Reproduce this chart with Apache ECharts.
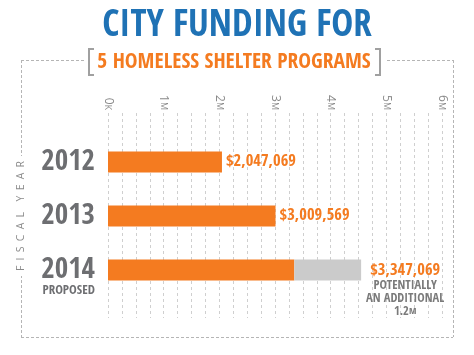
<!DOCTYPE html>
<html><head><meta charset="utf-8">
<script src="https://cdn.jsdelivr.net/npm/echarts@6/dist/echarts.min.js"></script>
<style>html,body{margin:0;padding:0;background:#fff}#c{width:474px;height:355px}</style>
</head><body><div id="c"></div>
<script>
const titleText = 'CITY FUNDING FOR';
const subtitleText = '5 HOMELESS SHELTER PROGRAMS';
const axisName = 'F\u2002I\u2002S\u2002C\u2002A\u2002L\u2002\u2002Y\u2002E\u2002A\u2002R';
const years = ['2012', '2013', '2014'];
const yearNotes = ['', '', 'PROPOSED'];
const funding = [2047069, 3009569, 3347069];
const additional = [0, 0, 1200000];
const additionalWords = ['POTENTIALLY', 'AN ADDITIONAL'];
const tickLabels = ['0K', '1M', '2M', '3M', '4M', '5M', '6M'];

const NARROW = "'Open Sans Condensed'";
const CW = 'bold';
const ORANGE = '#f47b20', BLUE = '#1f72b5', GREY = '#6d6e71', BARGREY = '#cbcbcb', DASH = '#b5b5b5';
const fmt = v => '$' + v.toLocaleString('en-US');

const chart = echarts.init(document.getElementById('c'));
chart.setOption({
  animation: false,
  backgroundColor: '#fff',
  grid: [
    {left: 108, right: 32, top: 113, bottom: 37},
    {left: 108, right: 32, top: 135, height: 162}
  ],
  xAxis: [
    {gridIndex: 0, type: 'value', position: 'top', min: 0, max: 6000000, interval: 1000000,
     axisLine: {show: false}, axisTick: {show: false},
     splitLine: {show: true, lineStyle: {color: '#cfcfcf', type: [3, 3]}},
     minorTick: {show: false, splitNumber: 4},
     minorSplitLine: {show: true, lineStyle: {color: '#cfcfcf', type: [3, 3]}},
     axisLabel: {rotate: 90, margin: 3, color: '#8a8a8a', fontFamily: 'Open Sans',
       formatter: v => { const t = tickLabels[Math.round(v / 1000000)]; return '{n|' + t.slice(0, -1) + '}{u|' + t.slice(-1) + '}'; },
       rich: {n: {fontSize: 12, color: '#8a8a8a', fontFamily: 'Open Sans'}, u: {fontSize: 9, color: '#8a8a8a', fontFamily: 'Open Sans'}}}},
    {gridIndex: 1, type: 'value', min: 0, max: 6000000, show: false}
  ],
  yAxis: [
    {gridIndex: 0, type: 'category', data: [], show: false},
    {gridIndex: 1, type: 'category', inverse: true, data: years,
     axisLine: {show: false}, axisTick: {show: false},
     axisLabel: {margin: 13, padding: [14, 0, 0, 0],
       formatter: (v, i) => '{y|' + v + '}\n{p|' + (yearNotes[i] || ' ') + '}',
       rich: {y: {fontSize: 29, fontWeight: CW, color: GREY, fontFamily: NARROW, lineHeight: 28, align: 'right'},
              p: {fontSize: 13, fontWeight: CW, color: GREY, fontFamily: NARROW, lineHeight: 13, align: 'right'}}}}
  ],
  series: [
    {type: 'bar', xAxisIndex: 1, yAxisIndex: 1, stack: 'a', barWidth: 21, itemStyle: {color: ORANGE},
     data: funding.map((v, i) => ({value: v, label: {show: !additional[i]}})),
     label: {position: 'right', distance: 4, color: ORANGE, fontSize: 16.5, fontWeight: CW, fontFamily: NARROW,
       formatter: p => fmt(p.value)}},
    {type: 'bar', xAxisIndex: 1, yAxisIndex: 1, stack: 'a', barWidth: 21, itemStyle: {color: BARGREY},
     data: additional.map(v => ({value: v, label: {show: !!v}})),
     label: {position: 'right', distance: 5, offset: [0, 20],
       formatter: p => '{v|' + fmt(funding[p.dataIndex]) + '}\n' + additionalWords.map(w => '{g|' + w + '}').join('\n') +
         '\n{g|' + (p.value / 1000000) + '}{gs|M}',
       rich: {v: {fontSize: 16.5, fontWeight: CW, color: ORANGE, fontFamily: NARROW, lineHeight: 18, align: 'center'},
              g: {fontSize: 12.5, fontWeight: CW, color: '#7a7a7a', fontFamily: NARROW, lineHeight: 13, align: 'center'},
              gs: {fontSize: 9.5, fontWeight: CW, color: '#7a7a7a', fontFamily: NARROW, lineHeight: 13, align: 'center'}}}}
  ],
  graphic: [
    {type: 'line', shape: {x1: 21, y1: 60.5, x2: 85, y2: 60.5}, style: {stroke: DASH, lineDash: [3, 2]}, z: 1},
    {type: 'line', shape: {x1: 387, y1: 60.5, x2: 453, y2: 60.5}, style: {stroke: DASH, lineDash: [3, 2]}, z: 1},
    {type: 'line', shape: {x1: 453.5, y1: 60, x2: 453.5, y2: 337}, style: {stroke: DASH, lineDash: [3, 2]}, z: 1},
    {type: 'line', shape: {x1: 21, y1: 337.5, x2: 453, y2: 337.5}, style: {stroke: DASH, lineDash: [3, 2]}, z: 1},
    {type: 'line', shape: {x1: 21.5, y1: 60, x2: 21.5, y2: 337}, style: {stroke: DASH, lineDash: [3, 2]}, z: 1},
    {type: 'text', x: 21, y: 216, rotation: Math.PI / 2, z: 5,
     style: {text: axisName, fill: '#8a8a8a', fontSize: 10.5, fontFamily: 'Open Sans', align: 'center', verticalAlign: 'middle',
       backgroundColor: '#fff', padding: [0, 5]}},
    {type: 'text', x: 237, y: 26, z: 5,
     style: {text: titleText, fill: BLUE, fontSize: 37, fontWeight: CW, fontFamily: NARROW, align: 'center', verticalAlign: 'middle'}},
    {type: 'text', x: 234, y: 62, z: 5,
     style: {text: subtitleText, fill: ORANGE, fontSize: 21.5, fontWeight: CW, fontFamily: NARROW, align: 'center', verticalAlign: 'middle'}},
    {type: 'polyline', shape: {points: [[94, 49], [89, 49], [89, 75], [94, 75]]}, style: {stroke: '#a0a0a0', lineWidth: 2, fill: null}, z: 5},
    {type: 'polyline', shape: {points: [[375, 49], [380, 49], [380, 75], [375, 75]]}, style: {stroke: '#a0a0a0', lineWidth: 2, fill: null}, z: 5}
  ]
});
</script></body></html>
